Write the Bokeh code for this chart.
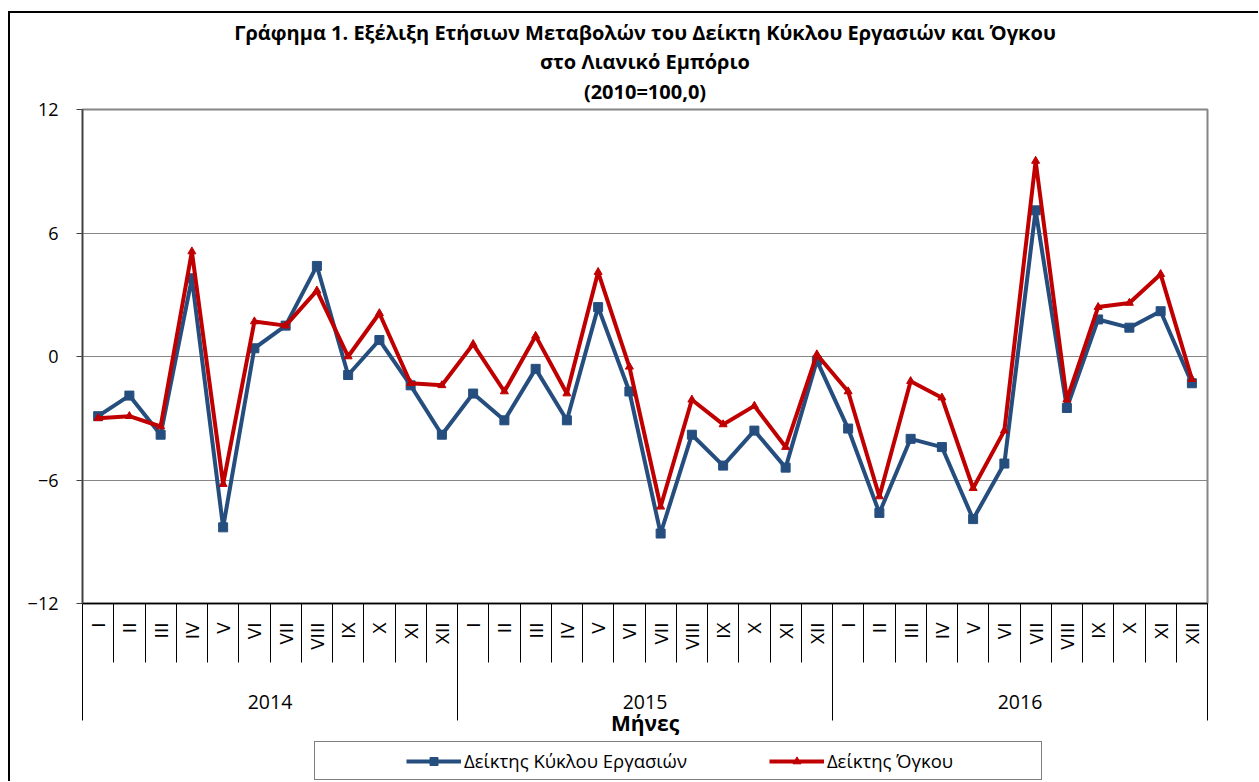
import numpy as np
from math import pi
from bokeh.plotting import figure
from bokeh.layouts import column
from bokeh.models import Range1d, FixedTicker, LinearAxis, Legend, LegendItem, Title
from bokeh.embed import file_html
from bokeh.resources import INLINE

# ---------------- data ----------------
years = ["2014", "2015", "2016"]
months = ["I", "II", "III", "IV", "V", "VI", "VII", "VIII", "IX", "X", "XI", "XII"]

turnover_2014 = [-2.9, -1.9, -3.8, 3.8, -8.3, 0.4, 1.5, 4.4, -0.9, 0.8, -1.4, -3.8]
turnover_2015 = [-1.8, -3.1, -0.6, -3.1, 2.4, -1.7, -8.6, -3.8, -5.3, -3.6, -5.4, -0.2]
turnover_2016 = [-3.5, -7.6, -4.0, -4.4, -7.9, -5.2, 7.1, -2.5, 1.8, 1.4, 2.2, -1.3]

volume_2014 = [-3.0, -2.9, -3.4, 5.1, -6.2, 1.7, 1.5, 3.2, 0.0, 2.1, -1.3, -1.4]
volume_2015 = [0.6, -1.7, 1.0, -1.8, 4.1, -0.5, -7.3, -2.1, -3.3, -2.4, -4.4, 0.1]
volume_2016 = [-1.7, -6.8, -1.2, -2.0, -6.4, -3.6, 9.5, -2.1, 2.4, 2.6, 4.0, -1.1]

y_ticks = [-12, -6, 0, 6, 12]
y_grid = [-6, 0, 6]

title_lines = ["Γράφημα 1. Εξέλιξη Ετήσιων Μεταβολών του Δείκτη Κύκλου Εργασιών και Όγκου",
               "στο Λιανικό Εμπόριο",
               "(2010=100,0)"]
x_title = "Μήνες"
name_turnover = "Δείκτης Κύκλου Εργασιών"
name_volume = "Δείκτης Όγκου"

# ---------------- derived ----------------
turnover = turnover_2014 + turnover_2015 + turnover_2016
volume = volume_2014 + volume_2015 + volume_2016
n_m = len(months)
n = len(years) * n_m
xc = [i + 0.5 for i in range(n)]
month_labels = months * len(years)
year_centers = [i * n_m + n_m / 2 for i in range(len(years))]
year_bounds = [i * n_m for i in range(len(years) + 1)]

FONT = "Open Sans"
BLUE = "#254E7E"
RED = "#C00000"
GRID = "#868686"
W = 1248

p = figure(width=W, height=728, output_backend="svg", toolbar_location=None,
           x_range=Range1d(0, n), y_range=Range1d(-12, 12), x_axis_type=None,
           min_border_left=72, min_border_right=51, min_border_top=96, min_border_bottom=138)

p.background_fill_color = "white"
p.border_fill_color = "white"
p.outline_line_color = GRID
p.outline_line_width = 2

# title: three centred lines; p.title is the outermost, added titles stack from the frame outwards
p.title.text = title_lines[0]
p.title.align = "center"
p.title.text_font = FONT
p.title.text_font_style = "bold"
p.title.text_font_size = "20px"
p.title.text_color = "black"
p.title.text_line_height = 1.0
p.title.standoff = 0
p.add_layout(Title(text=title_lines[2], align="center", vertical_align="top", text_font=FONT,
                   text_font_style="bold", text_font_size="20px", text_color="black",
                   text_line_height=1.0, standoff=6), "above")
p.add_layout(Title(text=title_lines[1], align="center", text_font=FONT, text_font_style="bold",
                   text_font_size="20px", text_color="black", text_line_height=1.0,
                   standoff=0), "above")

# y axis
yax = p.yaxis[0]
yax.ticker = FixedTicker(ticks=y_ticks)
yax.major_tick_out = 6
yax.major_tick_in = 0
yax.minor_tick_line_color = None
yax.axis_line_color = "#404040"
yax.axis_line_width = 1.5
yax.major_tick_line_color = "#404040"
yax.major_label_text_font = FONT
yax.major_label_text_font_size = "18px"
yax.major_label_text_color = "black"
yax.major_label_standoff = 18

p.ygrid.ticker = FixedTicker(ticks=y_grid)
p.ygrid.grid_line_color = GRID
p.ygrid.grid_line_width = 1.2

# month axis (labels at month centres, separators as minor ticks at boundaries)
month_axis = LinearAxis(
    ticker=FixedTicker(ticks=xc, minor_ticks=list(range(n + 1))),
    major_label_overrides={float(x): m for x, m in zip(xc, month_labels)},
    major_tick_in=0, major_tick_out=0, major_tick_line_color=None,
    minor_tick_in=0, minor_tick_out=59, minor_tick_line_color="black", minor_tick_line_width=1,
    axis_line_color="black", axis_line_width=1.5,
    major_label_orientation=pi / 2, major_label_standoff=-40,
    major_label_text_font=FONT, major_label_text_font_size="19px", major_label_text_color="black")
p.add_layout(month_axis, "below")

# year axis
year_axis = LinearAxis(
    ticker=FixedTicker(ticks=year_centers, minor_ticks=year_bounds),
    major_label_overrides={float(c): y for c, y in zip(year_centers, years)},
    major_tick_in=0, major_tick_out=0, major_tick_line_color=None,
    minor_tick_in=46, minor_tick_out=68, minor_tick_line_color="black", minor_tick_line_width=1,
    axis_line_color=None,
    major_label_standoff=-26,
    major_label_text_font=FONT, major_label_text_font_size="19.5px", major_label_text_color="black",
    axis_label=x_title, axis_label_standoff=-3,
    axis_label_text_font=FONT, axis_label_text_font_size="21px",
    axis_label_text_font_style="bold", axis_label_text_color="black")
p.add_layout(year_axis, "below")

# series
p.line(xc, turnover, line_color=BLUE, line_width=4)
p.scatter(xc, turnover, marker="square", size=9, fill_color=BLUE, line_color=BLUE)
p.line(xc, volume, line_color=RED, line_width=4)
p.scatter(xc, volume, marker="triangle", size=8, fill_color=RED, line_color=RED)

# legend strip (a separate small figure whose own copies of the series lie outside its view)
q = figure(width=W, height=40, output_backend="svg", toolbar_location=None,
           x_range=Range1d(0, n), y_range=Range1d(100, 101), x_axis_type=None, y_axis_type=None,
           min_border=0, min_border_left=0, min_border_right=0, min_border_top=0, min_border_bottom=0)
q.outline_line_color = None
q.xgrid.visible = False
q.ygrid.visible = False
q.background_fill_color = "white"
q.border_fill_color = "white"
ql1 = q.line(xc, turnover, line_color=BLUE, line_width=4)
qm1 = q.scatter(xc, turnover, marker="square", size=9, fill_color=BLUE, line_color=BLUE)
ql2 = q.line(xc, volume, line_color=RED, line_width=4)
qm2 = q.scatter(xc, volume, marker="triangle", size=8, fill_color=RED, line_color=RED)

legend = Legend(items=[LegendItem(label=name_turnover, renderers=[ql1, qm1]),
                       LegendItem(label=name_volume, renderers=[ql2, qm2])],
                orientation="horizontal", location=(232, 1),
                title=" ", title_location="left", title_standoff=71,
                title_text_font=FONT, title_text_font_size="10px",
                glyph_width=55, glyph_height=20, label_standoff=3, spacing=82,
                padding=6, margin=0, label_width=208,
                border_line_color="black", border_line_width=1,
                label_text_font=FONT, label_text_font_size="18.5px", label_text_color="black")
q.add_layout(legend, "center")

layout = column(p, q, spacing=0,
                styles={"margin-left": "8px", "margin-top": "11px",
                        "border-top": "2px solid black", "border-left": "2px solid black"})

open("out.html", "w").write(file_html(layout, INLINE))
